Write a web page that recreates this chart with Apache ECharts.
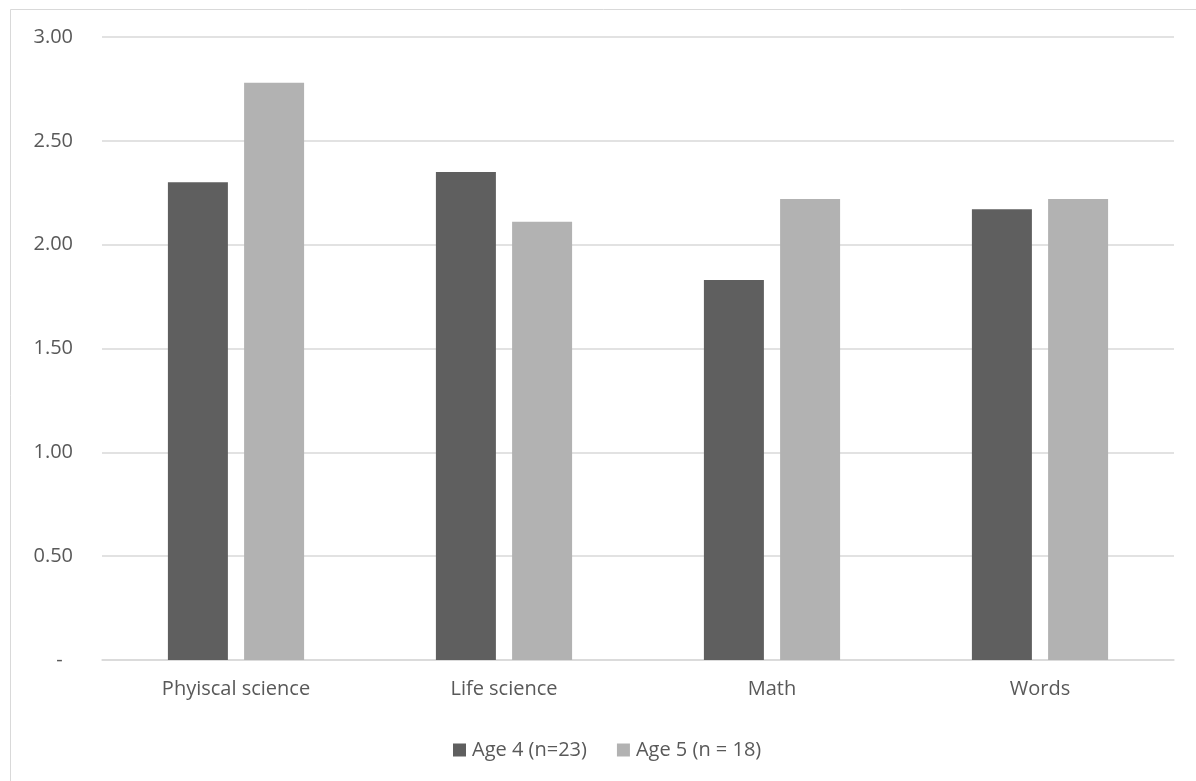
<!DOCTYPE html>
<html>
<head>
<meta charset="utf-8">
<script src="https://cdn.jsdelivr.net/npm/echarts@6/dist/echarts.min.js"></script>
<style>html,body{margin:0;padding:0;background:#fff;}#c{width:1196px;height:781px;}</style>
</head>
<body>
<div id="c"></div>
<script>
const categories = ['Phyiscal science', 'Life science', 'Math', 'Words'];
const seriesNames = ['Age 4 (n=23)', 'Age 5 (n = 18)'];
const age4 = [2.30, 2.35, 1.83, 2.17];
const age5 = [2.78, 2.11, 2.22, 2.22];
const yTicks = [0, 0.5, 1.0, 1.5, 2.0, 2.5, 3.0];

const font = 'Open Sans';
const chart = echarts.init(document.getElementById('c'));
chart.setOption({
  animation: false,
  backgroundColor: '#fff',
  graphic: [{
    type: 'rect', left: 8, top: 7, shape: { width: 1200, height: 800 },
    style: { fill: 'none', stroke: '#d9d9d9', lineWidth: 1 }, silent: true, z: -1
  }],
  grid: { left: 102, right: 22, top: 37, bottom: 121, containLabel: false },
  legend: {
    top: 735, left: 448,
    itemWidth: 13, itemHeight: 13, itemGap: 30,
    icon: 'rect',
    textStyle: { fontFamily: font, fontSize: 20, color: '#595959', padding: [0, 0, 0, 1] },
    data: seriesNames
  },
  xAxis: {
    type: 'category', data: categories,
    axisLine: { lineStyle: { color: '#d9d9d9', width: 1.5 } },
    axisTick: { show: false },
    axisLabel: { fontFamily: font, fontSize: 20, color: '#595959', margin: 19 }
  },
  yAxis: {
    type: 'value', min: 0, max: 3, interval: 0.5,
    axisLine: { show: false }, axisTick: { show: false },
    splitLine: { lineStyle: { color: '#d9d9d9', width: 1.5 } },
    axisLabel: {
      fontFamily: font, fontSize: 20, color: '#595959', margin: 29,
      formatter: v => v === yTicks[0] ? '-  ' : v.toFixed(2)
    }
  },
  series: [
    { name: seriesNames[0], type: 'bar', data: age4, barWidth: 60, barGap: '27%',
      itemStyle: { color: '#5f5f5f' } },
    { name: seriesNames[1], type: 'bar', data: age5, barWidth: 60,
      itemStyle: { color: '#b2b2b2' } }
  ]
});
</script>
</body>
</html>
